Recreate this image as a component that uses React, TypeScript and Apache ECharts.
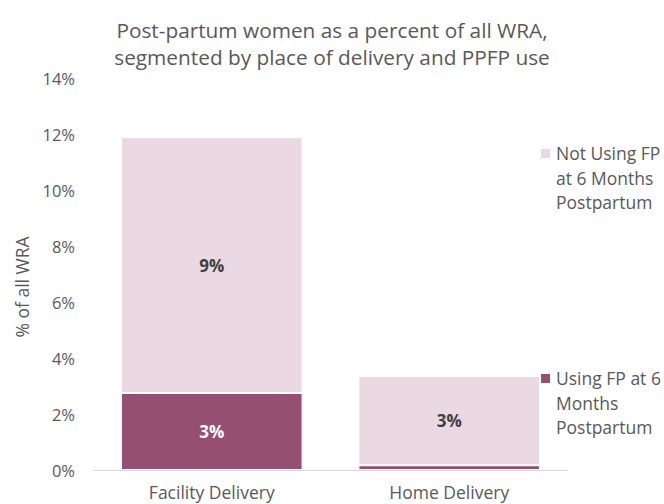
import React, { useEffect, useRef } from "react";
import * as echarts from "echarts";

const categories = ["Facility Delivery", "Home Delivery"];
const usingFP = [2.75, 0.17];
const notUsingFP = [9.14, 3.19];
const yTicks = [0, 2, 4, 6, 8, 10, 12, 14];
const seriesNames = ["Using FP at 6 Months Postpartum", "Not Using FP at 6 Months Postpartum"];
const legendLines = [
  ["Not Using FP", "at 6 Months", "Postpartum"],
  ["Using FP at 6", "Months", "Postpartum"],
];

const FONT = "'Open Sans', sans-serif";
const DARK = "#954F72";
const LIGHT = "#EAD9E3";
const TEXT = "#595959";

export default function App() {
  const ref = useRef<HTMLDivElement>(null);
  useEffect(() => {
    if (!ref.current) return;
    const chart = echarts.init(ref.current, null, { renderer: "svg" });
    const fmt = (p: any) => (p.value >= 1 ? Math.round(p.value) + "%" : "");
    chart.setOption({
      animation: false,
      backgroundColor: "#fff",
      textStyle: { fontFamily: FONT },
      title: {
        text: "Post-partum women as a percent of all WRA,\nsegmented by place of delivery and PPFP use",
        left: "center",
        top: 11,
        textStyle: { fontFamily: FONT, fontSize: 20.8, fontWeight: "normal", color: TEXT, lineHeight: 27 },
      },
      grid: { left: 93, right: 96, top: 78, bottom: 34, containLabel: false },
      xAxis: {
        type: "category",
        data: categories,
        axisLine: { lineStyle: { color: "#D9D9D9", width: 1 } },
        axisTick: { show: false },
        axisLabel: { color: TEXT, fontSize: 17.5, fontFamily: FONT, margin: 13 },
      },
      yAxis: {
        type: "value",
        min: yTicks[0],
        max: yTicks[yTicks.length - 1],
        interval: 2,
        name: "% of all WRA",
        nameLocation: "middle",
        nameGap: 62,
        nameTextStyle: { color: TEXT, fontSize: 17.5, fontFamily: FONT, padding: [0, 26, 0, 0] },
        axisLine: { show: false },
        axisTick: { show: false },
        splitLine: { show: false },
        axisLabel: { color: TEXT, fontSize: 16.5, fontFamily: FONT, margin: 18, formatter: "{value}%" },
      },
      series: [
        {
          name: seriesNames[0],
          type: "bar",
          stack: "total",
          barWidth: "76.5%",
          data: usingFP,
          itemStyle: { color: DARK, borderColor: "#fff", borderWidth: 1 },
          label: { show: true, position: "inside", formatter: fmt, color: "#fff", fontSize: 17, fontWeight: "bold", fontFamily: FONT },
        },
        {
          name: seriesNames[1],
          type: "bar",
          stack: "total",
          barWidth: "76.5%",
          data: notUsingFP,
          itemStyle: { color: LIGHT, borderColor: "#fff", borderWidth: 1 },
          label: { show: true, position: "inside", formatter: fmt, color: "#404040", fontSize: 17, fontWeight: "bold", fontFamily: FONT },
        },
      ],
      graphic: [
        { type: "rect", left: 541, top: 149, shape: { width: 9, height: 9 }, style: { fill: LIGHT } },
        {
          type: "text",
          left: 556,
          top: 141,
          style: { text: legendLines[0].join("\n"), fill: TEXT, fontSize: 17.5, fontFamily: FONT, lineHeight: 24.5 },
        },
        { type: "rect", left: 541, top: 374, shape: { width: 9, height: 9 }, style: { fill: DARK } },
        {
          type: "text",
          left: 556,
          top: 366,
          style: { text: legendLines[1].join("\n"), fill: TEXT, fontSize: 17.5, fontFamily: FONT, lineHeight: 24.5 },
        },
      ],
    });
    return () => chart.dispose();
  }, []);
  return <div ref={ref} style={{ position: "fixed", left: 0, top: 0, width: 664, height: 504 }} />;
}
